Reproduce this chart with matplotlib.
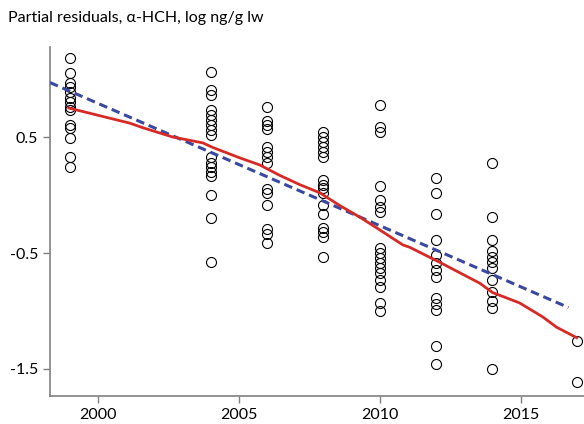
import numpy as np
import matplotlib
matplotlib.use("Agg")
import matplotlib.pyplot as plt

plt.rcParams['font.family'] = ['Lato', 'DejaVu Sans']

# partial residuals, one list per sampling year
years = [1999, 2004, 2006, 2008, 2010, 2012, 2014, 2017]
residuals = [
    [1.18, 1.05, 0.97, 0.93, 0.89, 0.84, 0.80, 0.76, 0.73, 0.60, 0.58, 0.49, 0.33, 0.24],
    [1.06, 0.91, 0.86, 0.73, 0.69, 0.65, 0.60, 0.56, 0.52, 0.33, 0.28, 0.24, 0.20, 0.16,
     0.0, -0.20, -0.58],
    [0.76, 0.64, 0.60, 0.57, 0.41, 0.37, 0.33, 0.28, 0.05, 0.02, -0.09, -0.29, -0.34, -0.41],
    [0.54, 0.50, 0.46, 0.41, 0.37, 0.33, 0.13, 0.09, 0.06, 0.02, -0.09, -0.16, -0.28,
     -0.32, -0.36, -0.53],
    [0.78, 0.59, 0.54, 0.08, -0.04, -0.10, -0.15, -0.46, -0.50, -0.54, -0.59, -0.63,
     -0.67, -0.73, -0.79, -0.93, -1.0],
    [0.15, 0.02, -0.16, -0.39, -0.52, -0.59, -0.65, -0.71, -0.89, -0.94, -0.99, -1.30, -1.46],
    [0.28, -0.19, -0.39, -0.48, -0.53, -0.58, -0.63, -0.73, -0.84, -0.91, -0.97, -1.50],
    [-1.26, -1.61],
]

# smooth (red) curve
smooth_years = [1998.97, 2001.13, 2001.60, 2002.66, 2003.72, 2004.08, 2005.04, 2005.74,
                2006.45, 2007.16, 2007.87, 2008.58, 2009.29, 2010.0, 2010.82, 2011.06,
                2012.13, 2013.55, 2014.0, 2014.96, 2015.78, 2016.28, 2016.99]
smooth_vals = [0.75, 0.62, 0.58, 0.50, 0.45, 0.41, 0.32, 0.26, 0.17, 0.09, 0.02, -0.09,
               -0.19, -0.30, -0.43, -0.45, -0.58, -0.76, -0.84, -0.93, -1.05, -1.14, -1.23]

# linear trend (blue dashed)
trend_years = [1998.3, 2016.7]
trend_vals = [0.97, -0.97]

xticks = [2000, 2005, 2010, 2015]
yticks = [0.5, -0.5, -1.5]
ytick_labels = ['0.5', '-0.5', '-1.5']

fig = plt.figure(figsize=(5.84, 4.24), dpi=100)
ax = fig.add_axes([0.0856, 0.066, 0.9144, 0.823])

for yr, vals in zip(years, residuals):
    ax.plot([yr] * len(vals), vals, 'o', markersize=7.2, markerfacecolor='none',
            markeredgecolor='black', markeredgewidth=0.8, zorder=2)

ax.plot(trend_years, trend_vals, color='#3a48a0', linewidth=2.2, linestyle=(0, (2.8, 1.6)), zorder=3)
ax.plot(smooth_years, smooth_vals, color='#d62a26', linewidth=2.0, zorder=4)

ax.set_xlim(1998.3, 2017.25)
ax.set_ylim(-1.733, 1.276)
ax.set_xticks(xticks)
ax.set_yticks(yticks)
ax.set_yticklabels(ytick_labels)

for side in ['top', 'right']:
    ax.spines[side].set_visible(False)
for side in ['left', 'bottom']:
    ax.spines[side].set_color('#808080')
    ax.spines[side].set_linewidth(1.2)
ax.tick_params(colors='#808080', length=5, width=1.0, labelcolor='black', labelsize=11.5)

fig.text(0.014, 0.958, 'Partial residuals, \u03b1-HCH, log ng/g lw', fontsize=11.5,
         va='center', ha='left')

fig.savefig('out.png', dpi=100)
